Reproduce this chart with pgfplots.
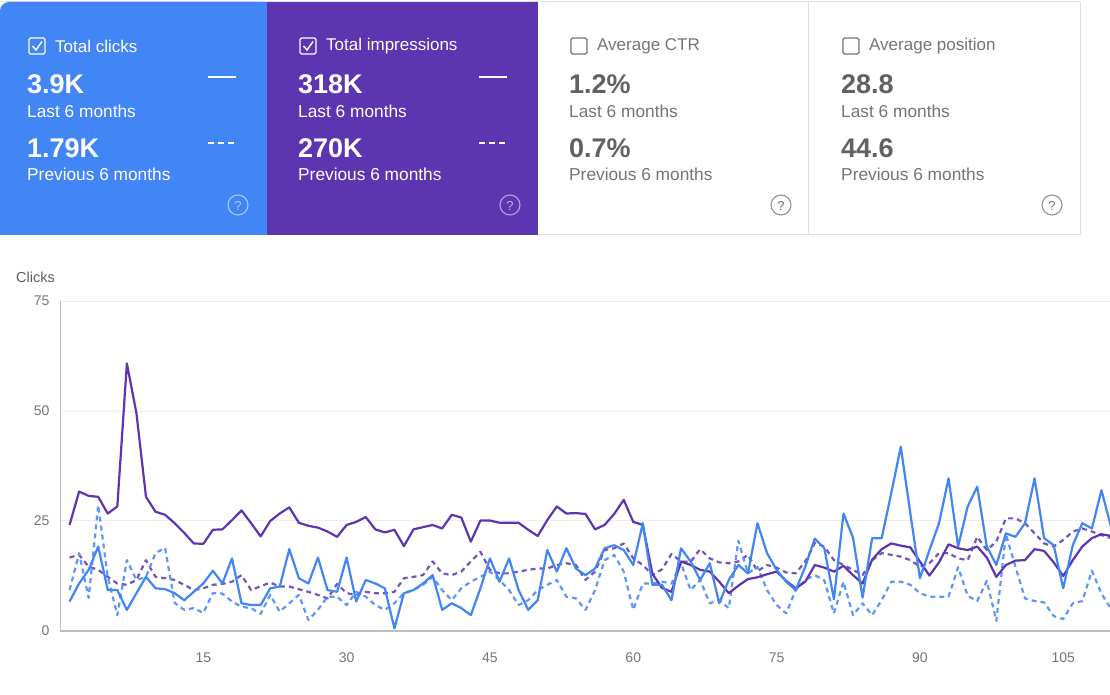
\documentclass[border=0pt]{standalone}
\usepackage{fontspec}
\setmainfont{Liberation Sans}
\usepackage{pgfplots}
\usepackage{pgfplotstable}
\pgfplotsset{compat=1.18}

\definecolor{gblue}{HTML}{4285F4}
\definecolor{gpurple}{HTML}{5E35B1}
\definecolor{gvalue}{HTML}{616161}
\definecolor{glabel}{HTML}{757575}
\definecolor{gborder}{HTML}{E0E0E0}
\definecolor{ggrid}{HTML}{EEEEEE}
\definecolor{gaxis}{HTML}{BDBDBD}

% day, clicks, clicks (previous), impressions (scaled), impressions (previous, scaled)
\pgfplotstableread{
i clk clkp imp impp
1 6.7 9.3 24.1 16.7
2 10.8 17.7 31.7 17.3
3 13.9 7.5 30.7 14.6
4 19.2 28.6 30.5 13.9
5 9.3 12.3 26.7 12.3
6 9.3 3.6 28.3 10.8
7 4.8 16.1 60.8 10.5
8 8.6 11.6 49.5 11.6
9 12.3 12.3 30.5 16.1
10 9.7 17.7 27.1 12.3
11 9.5 18.9 26.4 12.0
12 8.6 6.4 24.5 11.6
13 7.0 4.8 22.3 10.5
14 8.9 5.2 19.9 9.3
15 10.8 4.1 19.8 9.7
16 13.7 8.6 23.0 10.5
17 10.8 8.5 23.1 10.7
18 16.5 6.7 25.2 11.2
19 6.3 5.5 27.4 12.7
20 5.9 5.2 24.5 9.3
21 5.9 3.9 21.5 10.2
22 9.7 8.2 25.0 11.0
23 10.1 4.4 26.7 10.1
24 18.6 6.3 28.1 10.1
25 12.0 8.2 24.6 9.5
26 10.8 2.5 23.9 8.9
27 16.7 4.8 23.5 8.2
28 9.3 7.8 22.6 7.4
29 8.9 7.8 21.4 10.7
30 16.7 5.9 24.1 8.6
31 6.7 8.9 24.8 8.2
32 11.6 7.8 25.9 8.9
33 10.8 5.9 23.1 8.6
34 9.7 4.8 22.4 8.6
35 0.6 6.3 23.0 8.9
36 8.6 8.6 19.3 12.0
37 9.3 9.3 23.1 12.3
38 10.8 10.5 23.6 12.7
39 12.7 12.3 24.1 15.8
40 4.8 9.3 23.3 13.1
41 6.3 7.0 26.4 12.7
42 5.2 9.7 25.8 13.5
43 3.6 11.2 20.3 15.8
44 9.7 12.3 25.1 18.0
45 16.5 13.5 25.1 13.9
46 11.2 11.6 24.6 13.1
47 16.5 9.3 24.6 13.1
48 9.3 5.9 24.6 13.5
49 4.8 7.0 23.0 13.9
50 7.0 9.3 21.6 14.2
51 18.4 10.5 25.2 14.2
52 13.5 11.6 28.3 15.0
53 18.8 7.8 26.7 15.4
54 14.2 7.4 26.8 15.0
55 12.7 4.8 26.6 11.6
56 14.2 9.3 23.1 13.5
57 18.8 16.1 24.1 18.4
58 19.5 17.3 26.6 18.8
59 18.4 13.5 29.8 19.9
60 15.0 4.8 24.8 16.5
61 24.5 10.8 24.1 15.0
62 10.5 10.8 13.0 12.7
63 10.5 11.2 9.8 14.0
64 7.0 10.8 8.9 17.5
65 18.8 15.4 15.8 15.8
66 15.8 9.3 15.0 15.7
67 11.6 11.6 13.9 18.6
68 15.4 6.3 13.5 16.5
69 6.3 7.0 11.2 15.6
70 11.6 5.2 8.6 15.4
71 15.0 20.5 10.3 15.8
72 13.1 13.1 11.8 17.3
73 24.5 14.6 12.2 13.6
74 17.7 9.3 12.9 15.0
75 13.9 5.9 13.5 14.4
76 11.2 4.0 11.4 13.3
77 9.3 9.3 9.7 13.1
78 14.6 11.6 11.2 15.8
79 21.0 12.7 15.0 20.0
80 18.8 11.5 14.4 19.2
81 7.2 4.0 13.5 16.1
82 26.7 11.2 14.8 15.0
83 21.2 3.6 12.7 13.9
84 7.6 6.3 10.8 12.7
85 21.1 3.6 16.2 16.1
86 21.1 7.0 18.6 17.7
87 31.3 11.2 19.9 17.3
88 41.9 11.2 19.4 16.9
89 26.7 10.5 19.0 16.1
90 12.0 8.6 15.8 14.6
91 18.4 7.8 12.6 15.4
92 24.5 7.8 15.6 17.7
93 34.7 7.8 19.7 17.7
94 19.2 14.5 18.8 16.5
95 28.3 8.0 18.4 16.1
96 32.8 6.8 19.2 21.4
97 19.2 11.4 16.7 18.4
98 15.0 2.3 12.3 20.3
99 22.2 22.0 15.0 25.6
100 21.4 14.6 16.0 25.6
101 24.5 7.4 16.1 24.5
102 34.7 6.8 18.6 22.2
103 21.1 6.5 18.2 19.9
104 19.5 3.4 15.6 19.2
105 9.7 2.7 12.5 20.7
106 19.5 6.3 16.1 22.6
107 24.5 6.8 19.2 23.3
108 23.3 13.7 21.1 22.6
109 32.0 8.5 22.0 21.8
110 23.7 5.0 21.6 21.1
}\perfdata

\newcommand{\cardtitle}{\fontsize{17}{19}\selectfont}
\newcommand{\cardvalue}{\fontsize{27}{29}\selectfont\bfseries}
\newcommand{\cardsub}{\fontsize{17.3}{19}\selectfont}
\newcommand{\helpfont}{\fontsize{13}{13}\selectfont}

\begin{document}
\begin{tikzpicture}
\path[use as bounding box] (0,0) rectangle (1110pt,695pt);
\fill[white] (0,0) rectangle (1110pt,695pt);

% ---------- metric cards (screen coordinates, y pointing down) ----------
\begin{scope}[shift={(0pt,695pt)}, x=1pt, y=-1pt,
  every node/.style={inner sep=0pt, anchor=west}]
  % card frames
  \draw[gborder, line width=1pt] (0,1.5) -- (1080,1.5);
  \fill[gblue, rounded corners=9pt] (0,2) rectangle (267,235);
  \fill[gblue] (12,2) rectangle (267,235);
  \fill[gblue] (0,20) rectangle (267,235);
  \fill[gpurple] (267,2) rectangle (538,235);
  \draw[gborder, line width=1pt] (538,235) -- (1080,235);
  \draw[gborder, line width=1pt] (808,2) -- (808,235);
  \draw[gborder, line width=1pt] (1080,2) -- (1080,235);

  % Total clicks
  \draw[white, line width=1.3pt, rounded corners=1.5pt] (29,38) rectangle (45,54);
  \draw[white, line width=1.4pt] (32.5,46) -- (36,50) -- (42,41.5);
  \node[text=white, font=\cardtitle] at (55,46) {Total clicks};
  \node[text=white, font=\cardvalue] at (27,84) {3.9K};
  \node[text=white, font=\cardsub] at (27,111) {Last 6 months};
  \node[text=white, font=\cardvalue] at (27,148) {1.79K};
  \node[text=white, font=\cardsub] at (27,174) {Previous 6 months};
  \draw[white, line width=2pt] (208,77) -- (236,77);
  \draw[white, line width=2pt, dash pattern=on 6pt off 4pt] (208,143) -- (237,143);
  \draw[white, opacity=0.55, line width=1.1pt] (238,205) circle (10pt);
  \node[anchor=center, text=white, opacity=0.6, font=\helpfont] at (238,205.5) {?};

  % Total impressions
  \draw[white, line width=1.3pt, rounded corners=1.5pt] (300,38) rectangle (316,54);
  \draw[white, line width=1.4pt] (303.5,46) -- (307,50) -- (313,41.5);
  \node[text=white, font=\cardtitle] at (326,46) {Total impressions};
  \node[text=white, font=\cardvalue] at (298,84) {318K};
  \node[text=white, font=\cardsub] at (298,111) {Last 6 months};
  \node[text=white, font=\cardvalue] at (298,148) {270K};
  \node[text=white, font=\cardsub] at (298,174) {Previous 6 months};
  \draw[white, line width=2pt] (479,77) -- (507,77);
  \draw[white, line width=2pt, dash pattern=on 6pt off 4pt] (479,143) -- (508,143);
  \draw[white, opacity=0.55, line width=1.1pt] (510,205) circle (10pt);
  \node[anchor=center, text=white, opacity=0.6, font=\helpfont] at (510,205.5) {?};

  % Average CTR
  \draw[glabel, line width=1.3pt, rounded corners=1.5pt] (571,38) rectangle (587,54);
  \node[text=glabel, font=\cardtitle] at (597,46) {Average CTR};
  \node[text=gvalue, font=\cardvalue] at (569,84) {1.2\%};
  \node[text=glabel, font=\cardsub] at (569,111) {Last 6 months};
  \node[text=gvalue, font=\cardvalue] at (569,148) {0.7\%};
  \node[text=glabel, font=\cardsub] at (569,174) {Previous 6 months};
  \draw[glabel!80, line width=1.1pt] (781,205) circle (10pt);
  \node[anchor=center, text=glabel, font=\helpfont] at (781,205.5) {?};

  % Average position
  \draw[glabel, line width=1.3pt, rounded corners=1.5pt] (843,38) rectangle (859,54);
  \node[text=glabel, font=\cardtitle] at (869,46) {Average position};
  \node[text=gvalue, font=\cardvalue] at (841,84) {28.8};
  \node[text=glabel, font=\cardsub] at (841,111) {Last 6 months};
  \node[text=gvalue, font=\cardvalue] at (841,148) {44.6};
  \node[text=glabel, font=\cardsub] at (841,174) {Previous 6 months};
  \draw[glabel!80, line width=1.1pt] (1052,205) circle (10pt);
  \node[anchor=center, text=glabel, font=\helpfont] at (1052,205.5) {?};

  % axis title
  \node[text=glabel!80!black, font=\fontsize{14.5}{16}\selectfont] at (16,277) {Clicks};
\end{scope}

% ---------- performance chart ----------
\begin{axis}[
  at={(60pt,64pt)}, anchor=south west,
  scale only axis, width=1051pt, height=330pt,
  xmin=0, xmax=110, ymin=0, ymax=75,
  axis lines*=left,
  x axis line style={draw=gaxis, line width=1.6pt},
  y axis line style={draw=gaxis, line width=1pt},
  xtick={15,30,...,105}, ytick={0,25,50,75},
  major tick length=0pt,
  ymajorgrids, grid style={draw=ggrid, line width=1pt},
  /pgf/number format/assume math mode=true,
  tick label style={font=\fontsize{14}{15}\selectfont, text=glabel},
  yticklabel style={xshift=-7pt},
  xticklabel style={yshift=-18pt},
  clip=true,
  every axis plot/.append style={line width=2.2pt, line join=round},
]
\addplot[gpurple!85!white, dash pattern=on 5pt off 4pt] table[x=i, y=impp]{\perfdata};
\addplot[gblue!85!white, dash pattern=on 5pt off 4pt] table[x=i, y=clkp]{\perfdata};
\addplot[gpurple] table[x=i, y=imp]{\perfdata};
\addplot[gblue] table[x=i, y=clk]{\perfdata};
\end{axis}
\end{tikzpicture}
\end{document}
